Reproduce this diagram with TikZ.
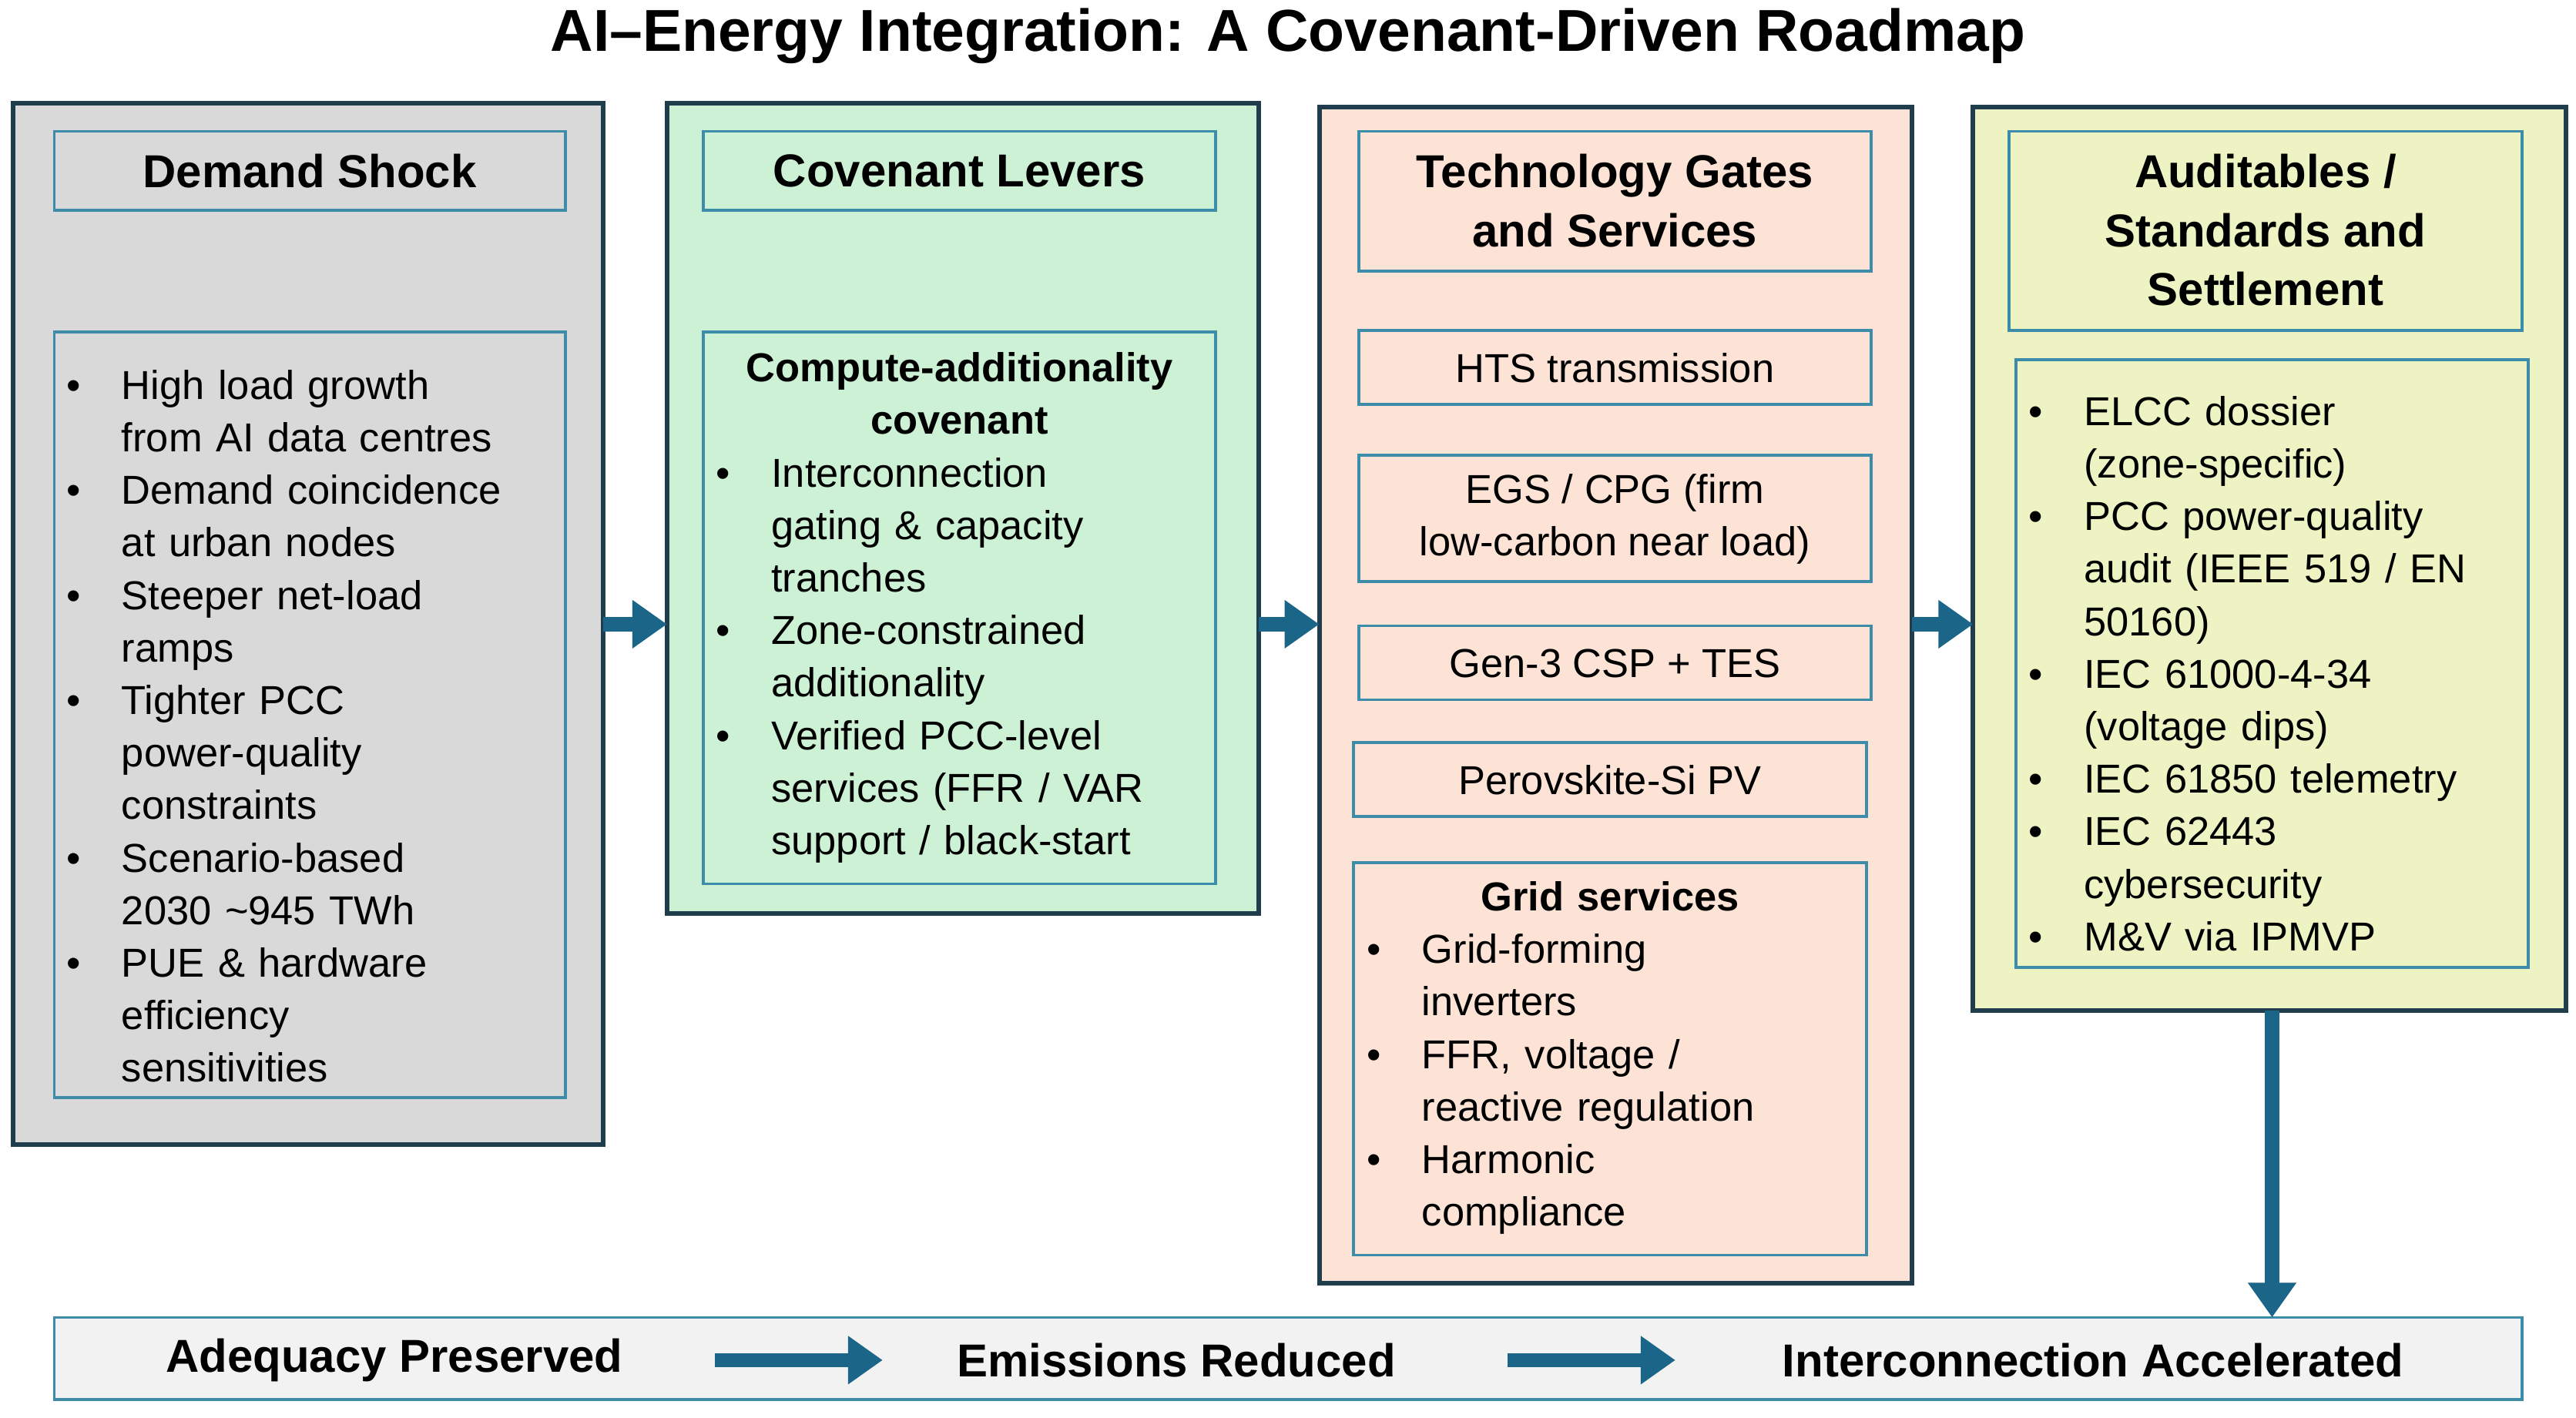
\documentclass[tikz,border=0pt]{standalone}
\usepackage{fontspec}
\setmainfont{Liberation Sans}
\usepackage{enumitem}
\usetikzlibrary{arrows.meta}
\definecolor{outerline}{HTML}{1F3D4C}
\definecolor{innerline}{HTML}{3C8CAA}
\definecolor{flow}{HTML}{1B6588}
\definecolor{shockfill}{HTML}{D9D9D9}
\definecolor{leverfill}{HTML}{CDF1D4}
\definecolor{gatefill}{HTML}{FDE3D6}
\definecolor{auditfill}{HTML}{EDF3C2}
\definecolor{barfill}{HTML}{F2F2F2}
\newcommand{\bodyfont}{\fontsize{14}{18.2}\selectfont}
\newenvironment{blist}{\begin{itemize}[leftmargin=0.66cm,labelsep=0.5cm,itemsep=0pt,topsep=0pt,parsep=0pt,partopsep=0pt]}{\end{itemize}}

\begin{document}
\begin{tikzpicture}[x=0.02cm,y=-0.02cm,
    outer/.style={draw=outerline, line width=1.6pt, inner sep=0pt},
    inner/.style={draw=innerline, line width=1pt, inner sep=0pt},
    head/.style={font=\fontsize{16}{20.5}\selectfont\bfseries, align=center},
    body/.style={font=\bodyfont, text width=5.9cm, align=left},
    flowarrow/.style={draw=flow, line width=5pt, -{Triangle[length=12pt,width=16pt]}}]
    \useasboundingbox (0,0) rectangle (1568,863);
    % title
    \node[font=\fontsize{20.5}{24}\selectfont\bfseries] (title) at (784,22) {AI–Energy Integration: A Covenant-Driven Roadmap};

    % columns
    \draw[outer, fill=shockfill] (8,63) rectangle (367,697);
    \draw[outer, fill=leverfill] (406,63) rectangle (766,556);
    \draw[outer, fill=gatefill] (803,65) rectangle (1164,781);
    \draw[outer, fill=auditfill] (1201,65) rectangle (1562,615);
    \node (shock) at (187.5,380) {};
    \node (lever) at (586,380) {};
    \node (gate) at (983.5,380) {};
    \node (audit) at (1381.5,380) {};
    \coordinate (shockR) at (367,380);
    \coordinate (leverL) at (406,380);
    \coordinate (leverR) at (766,380);
    \coordinate (gateL) at (803,380);
    \coordinate (gateR) at (1164,380);
    \coordinate (auditL) at (1201,380);
    \coordinate (auditB) at (1383,615);

    % demand shock
    \draw[inner] (33,80) rectangle (344,128);
    \node[head] (shockhead) at (188.5,104) {Demand Shock};
    \draw[inner] (33,202) rectangle (344,668);
    \node[body] (shockbody) at (188.5,435) {\begin{blist}
      \item High load growth\\ from AI data centres
      \item Demand coincidence\\ at urban nodes
      \item Steeper net-load\\ ramps
      \item Tighter PCC\\ power-quality\\ constraints
      \item Scenario-based\\ 2030 \textasciitilde945 TWh
      \item PUE \& hardware\\ efficiency\\ sensitivities
    \end{blist}};

    % covenant levers
    \draw[inner] (428,80) rectangle (740,128);
    \node[head] (leverhead) at (584,104) {Covenant Levers};
    \draw[inner] (428,202) rectangle (740,538);
    \node[body] (leverbody) at (584,370) {\centering\textbf{Compute-additionality}\\ \textbf{covenant}\par\raggedright
    \begin{blist}
      \item Interconnection\\ gating \& capacity\\ tranches
      \item Zone-constrained\\ additionality
      \item Verified PCC-level\\ services (FFR / VAR\\ support / black-start
    \end{blist}};

    % technology gates
    \draw[inner] (827,80) rectangle (1139,165);
    \node[head] (gatehead) at (983,122) {Technology Gates\\ and Services};
    \draw[inner] (827,201) rectangle (1139,246);
    \node[font=\bodyfont] (hts) at (983,224) {HTS transmission};
    \draw[inner] (827,277) rectangle (1139,354);
    \node[font=\bodyfont, align=center] (egs) at (983,316) {EGS / CPG (firm\\ low-carbon near load)};
    \draw[inner] (827,381) rectangle (1139,426);
    \node[font=\bodyfont] (csp) at (983,404) {Gen-3 CSP + TES};
    \draw[inner] (824,452) rectangle (1136,497);
    \node[font=\bodyfont] (pv) at (980,475) {Perovskite-Si PV};
    \draw[inner] (824,525) rectangle (1136,764);
    \node[body] (gridbody) at (980,644) {\centering\textbf{Grid services}\par\raggedright
    \begin{blist}
      \item Grid-forming\\ inverters
      \item FFR, voltage /\\ reactive regulation
      \item Harmonic\\ compliance
    \end{blist}};

    % auditables
    \draw[inner] (1223,80) rectangle (1535,201);
    \node[head] (audithead) at (1379,140) {Auditables /\\ Standards and\\ Settlement};
    \draw[inner] (1227,219) rectangle (1539,589);
    \node[body] (auditbody) at (1383,403) {\begin{blist}
      \item ELCC dossier\\ (zone-specific)
      \item PCC power-quality\\ audit (IEEE 519 / EN\\ 50160)
      \item IEC 61000-4-34\\ (voltage dips)
      \item IEC 61850 telemetry
      \item IEC 62443\\ cybersecurity
      \item M\&V via IPMVP
    \end{blist}};

    % outcome bar
    \draw[inner, fill=barfill] (33,802) rectangle (1535,852);
    \coordinate (barT) at (1383,802);
    \node[head] (adequacy) at (240,828) {Adequacy Preserved};
    \node[head] (emissions) at (716,828) {Emissions Reduced};
    \node[head] (accel) at (1274,828) {Interconnection Accelerated};

    % arrows
    \draw[flowarrow] (shockR) -- (leverL);
    \draw[flowarrow] (leverR) -- (gateL);
    \draw[flowarrow] (gateR) -- (auditL);
    \draw[flowarrow] (auditB) -- (barT);
    \draw[flowarrow] (adequacy.east) ++(50,0) coordinate (a1) -- ++(102,0);
    \draw[flowarrow] (emissions.east) ++(62,0) coordinate (a2) -- ++(102,0);
\end{tikzpicture}
\end{document}
